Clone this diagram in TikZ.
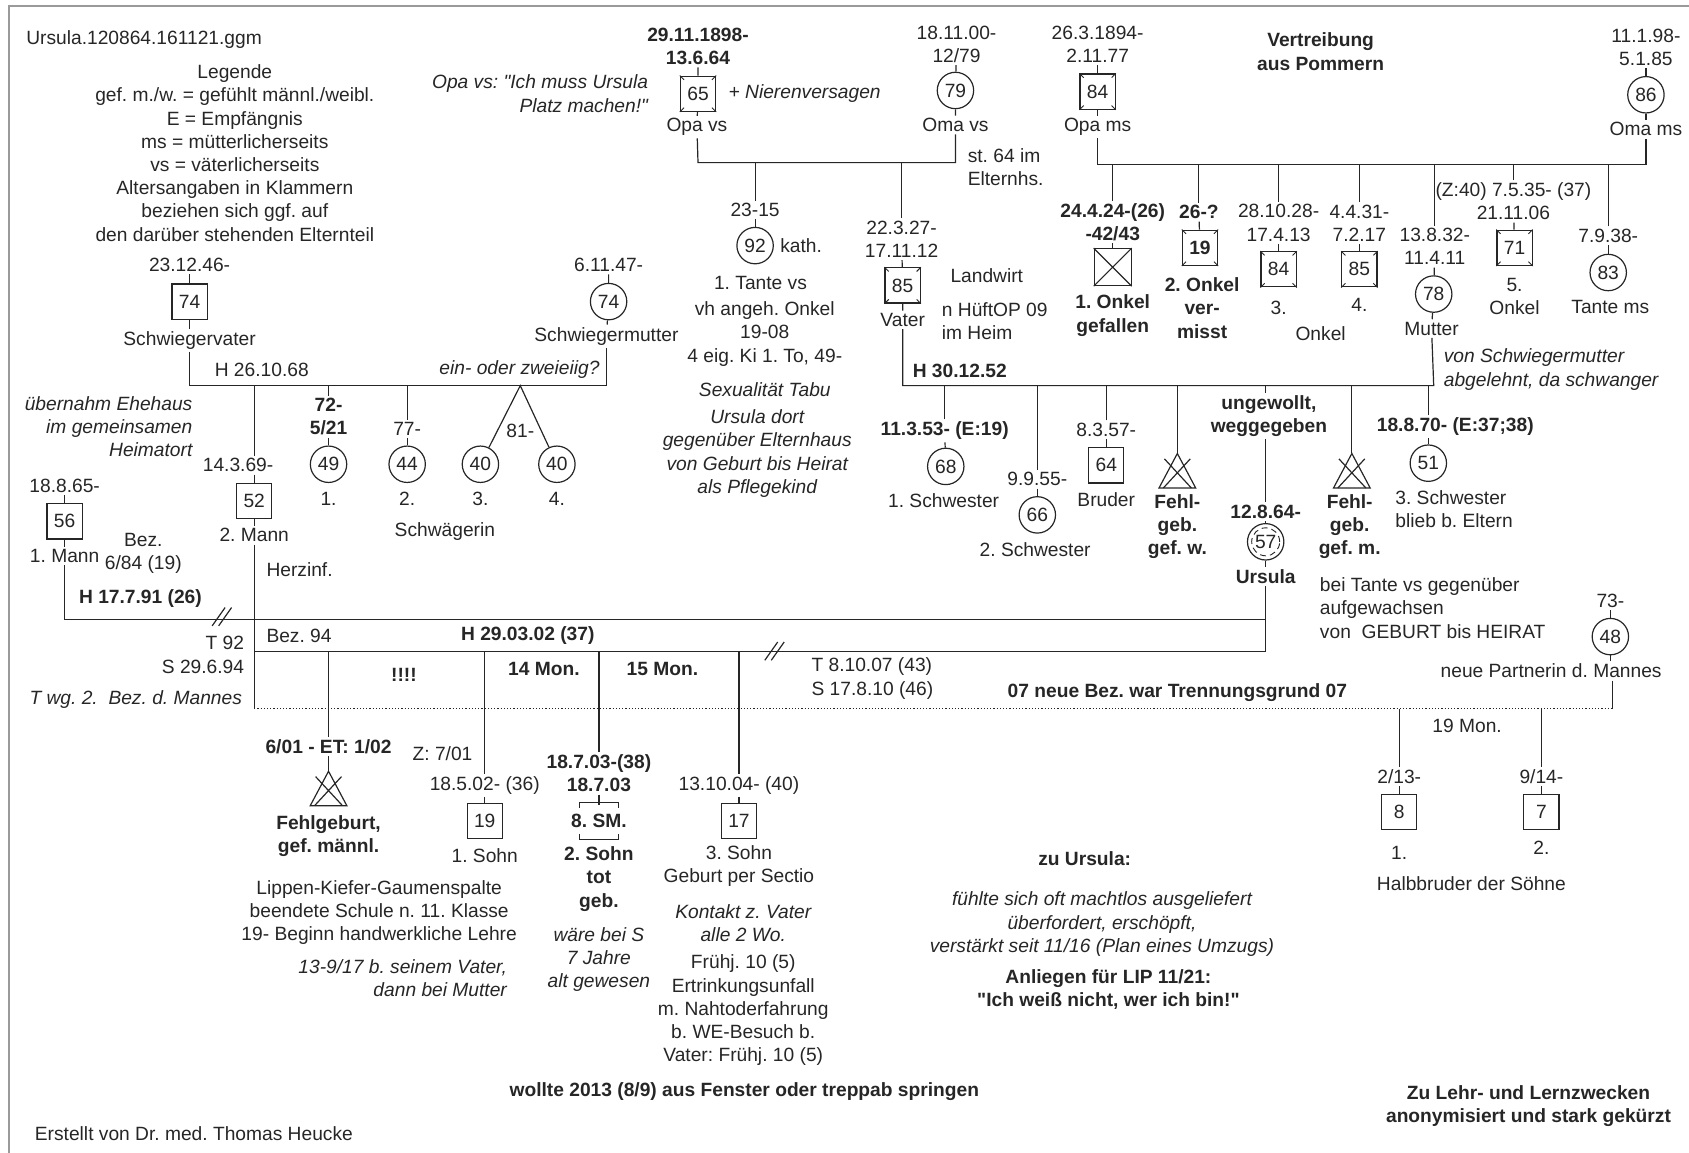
\documentclass[tikz,border=0pt]{standalone}
\usepackage{fontspec}
\setmainfont{Liberation Sans}
\usetikzlibrary{calc}
\frenchspacing
\definecolor{ink}{HTML}{262626}
\definecolor{rahmen}{HTML}{9A9A9A}
\newcommand{\fs}{\fontsize{9.6}{11.6}\selectfont}
% corner marks of a deceased person
\newcommand{\verst}[1]{%
  \foreach \c in {north east,north west,south east,south west}
    \draw[line width=0.45pt] (#1.\c) -- ($(#1.\c)!3pt!(#1.center)$);}
% miscarriage: triangle with cross, named coordinate at the centre
\newcommand{\fehlgeb}[2]{%
  \coordinate (#1) at #2;
  \draw ($(#1)+(0,-16)$) coordinate (#1-top) -- ($(#1)+(-17,16)$) -- ($(#1)+(17,16)$) -- cycle;
  \draw ($(#1)+(-12,-11)$) -- ($(#1)+(13,16)$) ($(#1)+(12,-11)$) -- ($(#1)+(-13,16)$);}

\begin{document}
\begin{tikzpicture}[x=0.5386pt, y=-0.5386pt, color=ink, line width=0.6pt,
  every node/.style={font=\fs},
  lab/.style={inner sep=1pt, align=center},
  labb/.style={lab, font=\fs\bfseries},
  labi/.style={lab, font=\fs\itshape},
  male/.style={draw, minimum size=17.6pt, inner sep=0pt, fill=white},
  fem/.style={draw, circle, minimum size=18.2pt, inner sep=0pt, fill=white}]
\useasboundingbox (0,0) rectangle (1568,1070);
\draw[rahmen, line width=1pt] (8,1075) -- (8,6) -- (1575,6);

% header and legend
\node[lab, anchor=west] (datei) at (22,37) {Ursula.120864.161121.ggm};
\node[lab] (legende) at (218,142) {Legende\\gef. m./w. = gefühlt männl./weibl.\\E = Empfängnis\\ms = mütterlicherseits\\vs = väterlicherseits\\Altersangaben in Klammern\\beziehen sich ggf. auf\\den darüber stehenden Elternteil};

% grandparents father's side
\node[labi, align=right, anchor=east] (zitat) at (604,87) {Opa vs: \textquotedbl Ich muss Ursula\\Platz machen!\textquotedbl};
\node[labb] (opavsd) at (648,43) {29.11.1898-\\13.6.64};
\node[male] (opavs) at (648,87) {65}; \verst{opavs}
\node[lab] (opavsl) at (647,118) {Opa vs};
\node[labi, anchor=west] (niere) at (674,87) {+ Nierenversagen};
\node[lab] (omavsd) at (888,41) {18.11.00-\\12/79};
\node[fem] (omavs) at (887,84) {79};
\node[lab] (omavsl) at (887,116) {Oma vs};
\node[lab, align=left, anchor=west] (st64) at (896,155) {st. 64 im\\Elternhs.};
\coordinate (hvs1) at (648,151);
\coordinate (hvs2) at (887,151);
\draw (opavsd) -- (opavs) -- (opavsl);
\draw (omavsd) -- (omavs) -- (omavsl);
\draw (opavsl) -- (hvs1) -- (hvs2) -- (omavsl);

\node[lab] (tvsd) at (701,195) {23-15};
\node[fem] (tvs) at (701,228) {92};
\node[lab, anchor=west] (kath) at (722,228) {kath.};
\node[lab] (tvsl) at (706,263) {1. Tante vs};
\node[lab] (onkelvs) at (710,310) {vh angeh. Onkel\\19-08\\4 eig. Ki 1. To, 49-};
\node[labi] (tabu) at (710,362) {Sexualität Tabu};
\node[labi] (pflege) at (703,421) {Ursula dort\\gegenüber Elternhaus\\von Geburt bis Heirat\\als Pflegekind};
\draw (tvsd) -- (tvsd |- hvs1);
\draw (tvsd) -- (tvs);

\node[lab] (vaterd) at (837,222) {22.3.27-\\17.11.12};
\node[male] (vater) at (838,265) {85}; \verst{vater}
\node[lab] (vaterl) at (838,297) {Vater};
\node[lab, anchor=west] (landw) at (880,256) {Landwirt};
\node[lab, align=left, anchor=west] (heim) at (872,298) {n HüftOP 09\\im Heim};
\draw (vaterd) -- (vaterd |- hvs1);
\draw (vaterd) -- (vater) -- (vaterl);

% grandparents mother's side
\node[lab] (opamsd) at (1019,41) {26.3.1894-\\2.11.77};
\node[male] (opams) at (1019,85) {84}; \verst{opams}
\node[lab] (opamsl) at (1019,118) {Opa ms};
\node[lab] (omamsd) at (1528,44) {11.1.98-\\5.1.85};
\node[fem] (omams) at (1528,88) {86};
\node[lab] (omamsl) at (1528,120) {Oma ms};
\node[labb] (vertr) at (1226,48) {Vertreibung\\aus Pommern};
\coordinate (hms1) at (1019,153);
\coordinate (hms2) at (1528,153);
\draw (opamsd) -- (opams) -- (opamsl);
\draw (omamsd) -- (omams) -- (omamsl);
\draw (opamsl) -- (hms1) -- (hms2) -- (omamsl);

\node[labb] (on1d) at (1033,206) {24.4.24-(26)\\-42/43};
\node[male, minimum size=18.4pt] (on1) at (1033,248) {};
\draw (on1.north west) -- (on1.south east) (on1.north east) -- (on1.south west);
\node[labb] (on1l) at (1033,293) {1. Onkel\\gefallen};
\node[labb] (on2d) at (1113,197) {26-?};
\node[male, font=\fs\bfseries] (on2) at (1114,230) {19}; \verst{on2}
\node[labb] (on2l) at (1116,286) {2. Onkel\\ver-\\misst};
\node[lab] (on3d) at (1187,207) {28.10.28-\\17.4.13};
\node[male] (on3) at (1187,250) {84}; \verst{on3}
\node[lab] (on3l) at (1187,286) {3.};
\node[lab] (on4d) at (1262,207) {4.4.31-\\7.2.17};
\node[male] (on4) at (1262,250) {85}; \verst{on4}
\node[lab] (on4l) at (1262,283) {4.};
\node[lab] (onkel) at (1226,310) {Onkel};
\node[lab] (mutterd) at (1332,229) {13.8.32-\\11.4.11};
\node[fem] (mutter) at (1331,273) {78};
\node[lab] (mutterl) at (1329,305) {Mutter};
\node[lab] (on5d) at (1405,187) {(Z:40) 7.5.35- (37)\\21.11.06};
\node[male] (on5) at (1406,230) {71}; \verst{on5}
\node[lab] (on5l) at (1406,275) {5.\\Onkel};
\node[lab] (tmsd) at (1493,219) {7.9.38-};
\node[fem] (tms) at (1493,253) {83};
\node[lab] (tmsl) at (1495,285) {Tante ms};
\node[labi, align=left, anchor=west] (abgel) at (1338,343) {von Schwiegermutter\\abgelehnt, da schwanger};
\foreach \k in {on1d,on2d,on3d,on4d,mutterd,on5d,tmsd}
  \draw (\k) -- (\k |- hms1);
\draw (on1d) -- (on1); \draw (on2d) -- (on2); \draw (on3d) -- (on3);
\draw (on4d) -- (on4); \draw (on5d) -- (on5); \draw (tmsd) -- (tms);
\draw (mutterd) -- (mutter) -- (mutterl);

% parents and siblings
\coordinate (hp1) at (838,358);
\coordinate (hp2) at (1331,358);
\draw (vaterl) -- (hp1) -- (hp2) -- (mutterl);
\node[labb, anchor=west] (h52) at (845,344) {H 30.12.52};

\node[labb] (s1d) at (877,400) {11.3.53- (E:19)};
\node[fem] (s1) at (878,433) {68};
\node[lab] (s1l) at (876,465) {1. Schwester};
\node[lab] (s2d) at (963,445) {9.9.55-};
\node[fem] (s2) at (963,478) {66};
\node[lab] (s2l) at (961,510) {2. Schwester};
\node[lab] (brd) at (1027,399) {8.3.57-};
\node[male] (br) at (1027,432) {64};
\node[lab] (brl) at (1027,464) {Bruder};
\fehlgeb{fw}{(1093,437)}
\node[labb] (fwl) at (1093,489) {Fehl-\\geb.\\gef. w.};
\node[labb] (ungew) at (1178,386) {ungewollt,\\weggegeben};
\node[labb] (ursd) at (1175,475) {12.8.64-};
\node[fem] (urs) at (1175,503) {57};
\draw[densely dashed, line width=0.45pt] (urs.center) circle (7pt);
\node[labb] (ursl) at (1175,535) {Ursula};
\fehlgeb{fm}{(1255,437)}
\node[labb] (fml) at (1253,489) {Fehl-\\geb.\\gef. m.};
\node[labb] (s3d) at (1351,396) {18.8.70- (E:37;38)};
\node[fem] (s3) at (1326,430) {51};
\node[lab, align=left, anchor=north west] (s3l) at (1293,453) {3. Schwester\\blieb b. Eltern};
\node[lab, align=left, anchor=north west] (tante) at (1223,534) {bei Tante vs gegenüber\\aufgewachsen\\von\ \ GEBURT bis HEIRAT};
\foreach \k in {s1d,s2d,brd}
  \draw (\k) -- (\k |- hp1);
\draw (s1d) -- (s1); \draw (s2d) -- (s2); \draw (brd) -- (br);
\draw (fw-top) -- (fw-top |- hp1);
\draw (fm-top) -- (fm-top |- hp1);
\draw (ungew.north -| ursd) -- (ursd |- hp1);
\draw (ungew.south -| ursd) -- (ursd) -- (urs) -- (ursl);
\draw (s3d.north -| s3) -- (s3 |- hp1);
\draw (s3d.south -| s3) -- (s3);

% parents-in-law and their children
\node[lab] (svd) at (176,246) {23.12.46-};
\node[male] (sv) at (176,280) {74};
\node[lab] (svl) at (176,316) {Schwiegervater};
\node[lab] (smd) at (565,246) {6.11.47-};
\node[fem] (sm) at (565,280) {74};
\node[lab] (sml) at (563,312) {Schwiegermutter};
\coordinate (hsv) at (176,358);
\coordinate (hsm) at (563,358);
\draw (svd) -- (sv) -- (svl);
\draw (smd) -- (sm) -- (sml);
\draw (svl) -- (hsv) -- (hsm) -- (sml);
\node[lab, anchor=west] (h68) at (197,343) {H 26.10.68};
\node[labi, anchor=east] (eioder) at (559,343) {ein- oder zweieiig?};
\node[labi, align=right, anchor=east] (ehehaus) at (181,396) {übernahm Ehehaus\\im gemeinsamen\\Heimatort};

\node[labb] (sw1d) at (305,387) {72-\\5/21};
\node[fem] (sw1) at (305,431) {49};
\node[lab] (sw1l) at (305,463) {1.};
\node[lab] (sw2d) at (378,398) {77-};
\node[fem] (sw2) at (378,431) {44};
\node[lab] (sw2l) at (378,463) {2.};
\node[lab] (zw) at (483,400) {81-};
\node[fem] (sw3) at (446,431) {40};
\node[lab] (sw3l) at (446,463) {3.};
\node[fem] (sw4) at (517,431) {40};
\node[lab] (sw4l) at (517,463) {4.};
\node[lab] (schw) at (413,493) {Schwägerin};
\coordinate (zwilling) at (483,358);
\draw (sw1d) -- (sw1d |- hsv); \draw (sw1d) -- (sw1);
\draw (sw2d) -- (sw2d |- hsv); \draw (sw2d) -- (sw2);
\draw (sw3) -- (zwilling) -- (sw4);

% husbands
\node[lab] (m1d) at (60,451) {18.8.65-};
\node[male] (m1) at (60,484) {56};
\node[lab] (m1l) at (60,516) {1. Mann};
\node[lab] (bez) at (133,514) {Bez.\\6/84 (19)};
\node[labb, anchor=west] (h91) at (71,556) {H 17.7.91 (26)};
\node[lab] (m2d) at (221,432) {14.3.69-};
\node[male] (m2) at (236,465) {52};
\node[lab] (m2l) at (236,497) {2. Mann};
\node[lab, anchor=west] (herz) at (245,529) {Herzinf.};
\draw (m1d) -- (m1) -- (m1l);
\draw (m2d.north -| m2) -- (m2 |- hsv);
\draw (m2d.south -| m2) -- (m2) -- (m2l);

\coordinate (u575) at (1175,575);
\coordinate (u605) at (1175,605);
\coordinate (m605) at (236,605);
\coordinate (m658) at (236,658);
\draw (m1l) |- (u575);
\draw (ursl) -- (u605) -- (m605);
\draw (m2l) -- (m658);
\draw (197,581) -- (209,564) (203,581) -- (215,564);
\draw (710,613) -- (722,596) (716,613) -- (728,596);

\node[lab, align=right, anchor=east] (t92) at (229,608) {T 92\\S 29.6.94};
\node[labi, anchor=east] (twg) at (227,649) {T wg. 2.\ \ Bez. d. Mannes};
\node[lab, anchor=west] (bez94) at (245,590) {Bez. 94};
\node[labb] (h02) at (490,590) {H 29.03.02 (37)};
\node[labb] (ausruf) at (375,627) {!!!!};
\node[labb] (mon14) at (505,621) {14 Mon.};
\node[labb] (mon15) at (615,621) {15 Mon.};
\node[lab, align=left, anchor=west] (t07) at (751,630) {T 8.10.07 (43)\\S 17.8.10 (46)};
\node[labb] (neu07) at (1093,643) {07 neue Bez. war Trennungsgrund 07};

% new partner and half brothers
\node[lab] (npd) at (1495,558) {73-};
\node[fem] (np) at (1495,591) {48};
\node[lab] (npl) at (1440,623) {neue Partnerin d. Mannes};
\coordinate (p658) at (1497,658);
\draw (npd) -- (np) -- (np |- npl.north);
\draw (npl.south -| p658) -- (p658);
\draw[densely dotted] (m658) -- (p658);
\node[lab] (mon19) at (1362,674) {19 Mon.};
\node[lab] (hb1d) at (1299,721) {2/13-};
\node[male] (hb1) at (1299,754) {8};
\node[lab] (hb1l) at (1299,792) {1.};
\node[lab] (hb2d) at (1431,721) {9/14-};
\node[male] (hb2) at (1431,754) {7};
\node[lab] (hb2l) at (1431,787) {2.};
\node[lab] (halb) at (1366,820) {Halbbruder der Söhne};
\draw (hb1d) -- (hb1d |- m658); \draw (hb1d) -- (hb1);
\draw (hb2d) -- (hb2d |- m658); \draw (hb2d) -- (hb2);

% children of Ursula
\node[labb] (fgd) at (305,693) {6/01 - ET: 1/02};
\fehlgeb{fg}{(305,732)}
\node[labb] (fgl) at (305,776) {Fehlgeburt,\\gef. männl.};
\draw (fgd) -- (fgd |- m605);
\draw (fgd) -- (fg-top);

\node[lab, anchor=east] (z701) at (441,700) {Z: 7/01};
\node[lab] (so1d) at (450,729) {18.5.02- (36)};
\node[male] (so1) at (450,762) {19};
\node[lab] (so1l) at (450,794) {1. Sohn};
\node[lab] (so1n) at (352,847) {Lippen-Kiefer-Gaumenspalte\\beendete Schule n. 11. Klasse\\19- Beginn handwerkliche Lehre};
\node[labi, align=right, anchor=east] (so1v) at (473,908) {13-9/17 b. seinem Vater,\\dann bei Mutter};
\draw (so1d) -- (so1d |- m605);
\draw (so1d) -- (so1);

\node[labb] (so2d) at (556,718) {18.7.03-(38)\\18.7.03};
\node[labb] (so2) at (556,762) {8. SM.};
\draw ($(so2)+(-18,-12)$) -- ++(0,-5) -- ++(36,0) -- ++(0,5);
\draw ($(so2)+(-18,12)$) -- ++(0,5) -- ++(36,0) -- ++(0,-5);
\node[labb] (so2l) at (556,816) {2. Sohn\\tot\\geb.};
\node[labi] (so2n) at (556,891) {wäre bei S\\7 Jahre\\alt gewesen};
\draw (so2d) -- (so2d |- m605);
\draw (so2d.south) -- ++(0,10);

\node[lab] (so3d) at (686,729) {13.10.04- (40)};
\node[male] (so3) at (686,762) {17};
\node[lab] (so3l) at (686,804) {3. Sohn\\Geburt per Sectio};
\node[labi] (so3k) at (690,857) {Kontakt z. Vater\\alle 2 Wo.};
\node[lab] (so3u) at (690,938) {Frühj. 10 (5)\\Ertrinkungsunfall\\m. Nahtoderfahrung\\b. WE-Besuch b.\\Vater: Frühj. 10 (5)};
\draw (so3d) -- (so3d |- m605);
\draw (so3d) -- (so3);

% notes
\node[labb] (fenster) at (691,1013) {wollte 2013 (8/9) aus Fenster oder treppab springen};
\node[labb] (zuurs) at (1007,797) {zu Ursula:};
\node[labi] (machtlos) at (1023,858) {fühlte sich oft machtlos ausgeliefert\\überfordert, erschöpft,\\verstärkt seit 11/16 (Plan eines Umzugs)};
\node[labb] (anliegen) at (1029,919) {Anliegen für LIP 11/21:\\\textquotedbl Ich weiß nicht, wer ich bin!\textquotedbl};
\node[labb] (zweck) at (1419,1027) {Zu Lehr- und Lernzwecken\\anonymisiert und stark gekürzt};
\node[lab, anchor=west] (erstellt) at (30,1052) {Erstellt von Dr. med. Thomas Heucke};
\end{tikzpicture}
\end{document}
